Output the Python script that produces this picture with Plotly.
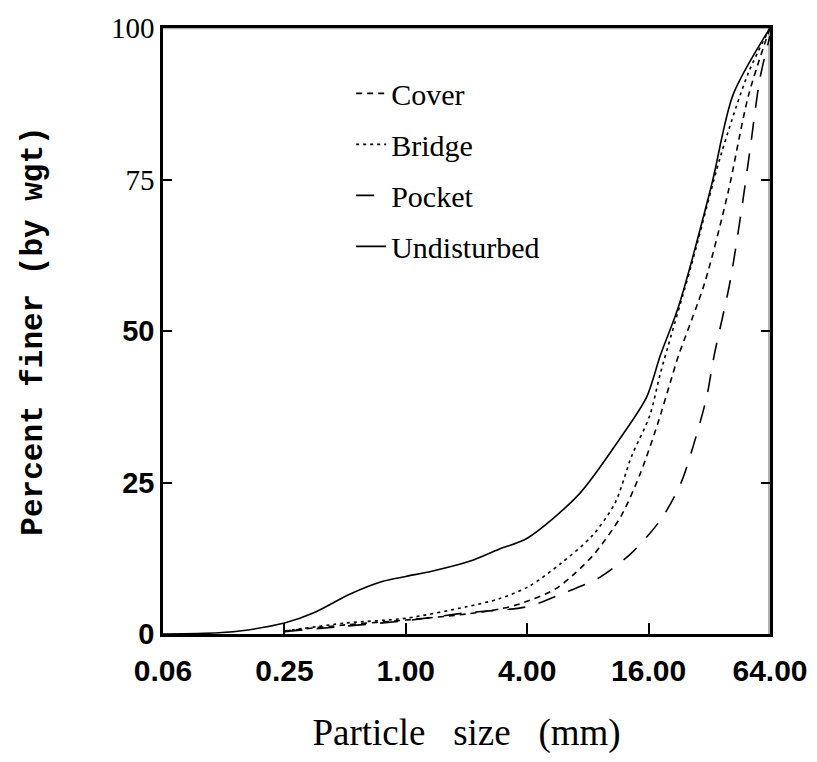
import plotly.graph_objects as go

# particle size (mm) / percent finer
undisturbed_x = [0.0625, 0.1, 0.15, 0.25, 0.35, 0.53, 0.77, 1.0, 1.36, 2.07, 2.9, 4.0,
                 7.2, 11.4, 15.6, 18.3, 22.5, 32.8, 42.0, 64.0]
undisturbed_y = [0.0, 0.1, 0.5, 1.8, 3.5, 6.6, 8.7, 9.5, 10.4, 12.0, 14.0, 15.8,
                 23.0, 32.0, 39.0, 46.0, 54.0, 74.0, 89.0, 100.0]

bridge_x = [0.25, 0.5, 1.0, 2.0, 2.9, 4.1, 5.9, 8.4, 10.9, 13.2, 16.2, 18.3, 26.0, 36.5, 50.0, 64.0]
bridge_y = [0.5, 1.8, 2.6, 4.5, 5.8, 7.9, 11.7, 16.2, 21.6, 29.4, 36.0, 43.0, 60.7, 79.0, 92.6, 100.0]

cover_x = [0.25, 0.5, 1.0, 2.0, 2.9, 3.7, 5.5, 6.9, 8.7, 11.7, 14.6, 17.8, 20.7, 22.5,
           30.4, 39.6, 50.0, 64.0]
cover_y = [0.5, 1.5, 2.3, 3.3, 4.1, 5.0, 7.4, 10.0, 13.4, 19.5, 26.6, 34.8, 42.0, 45.9,
           58.0, 72.8, 88.8, 100.0]

pocket_x = [0.25, 0.5, 1.0, 2.0, 4.0, 5.9, 9.0, 13.2, 18.5, 23.2, 26.9, 31.0, 33.8,
            40.5, 46.0, 51.0, 57.0, 64.0]
pocket_y = [0.4, 1.3, 2.2, 3.5, 4.5, 6.6, 9.2, 13.4, 19.0, 25.0, 31.5, 39.0, 45.9,
            58.0, 69.5, 80.0, 91.6, 98.7]

x_ticks = [0.0625, 0.25, 1, 4, 16, 64]
x_ticktext = ["0.06", "0.25", "1.00", "4.00", "16.00", "64.00"]
y_ticks = [0, 25, 50, 75, 100]

SERIF = "Liberation Serif, Times New Roman, serif"
BOLD_SANS = "Liberation Sans, Arial, sans-serif"

fig = go.Figure()
series = [
    ("Cover", cover_x, cover_y, "6px,5px"),
    ("Bridge", bridge_x, bridge_y, "3px,4px"),
    ("Pocket", pocket_x, pocket_y, "18px,14px"),
    ("Undisturbed", undisturbed_x, undisturbed_y, "solid"),
]
for name, xs, ys, dash in series:
    fig.add_trace(go.Scatter(
        x=xs, y=ys, mode="lines", name=name, legendgroup=name,
        line={"color": "black", "width": 1.6, "dash": dash, "shape": "spline", "smoothing": 0.8},
    ))

y_ticktext = [
    "<b>0</b>", "<b>25</b>", "<b>50</b>",
    f"<span style='font-family:{SERIF};font-weight:normal'>75</span>",
    f"<span style='font-family:{SERIF};font-weight:normal'>100</span>",
]

# frame: heavier right edge as in the scan, plus the top edge
fig.add_shape(type="line", xref="paper", yref="paper", x0=1, x1=1, y0=0, y1=1,
              line={"color": "black", "width": 4})
fig.add_shape(type="line", xref="paper", yref="paper", x0=0, x1=1, y0=1, y1=1,
              line={"color": "black", "width": 2.5})

fig.update_layout(
    width=817, height=762,
    template="simple_white",
    plot_bgcolor="white", paper_bgcolor="white",
    margin={"l": 155, "r": 55, "t": 20, "b": 136, "autoexpand": False},
    showlegend=True,
    legend={
        "x": 0.31, "y": 0.935, "xanchor": "left", "yanchor": "top",
        "font": {"family": SERIF, "size": 30, "color": "black"},
        "bgcolor": "rgba(0,0,0,0)", "tracegroupgap": 9,
    },
    xaxis={
        "type": "log", "automargin": False,
        "range": [-1.2041, 1.8062],
        "tickvals": x_ticks, "ticktext": [f"<b>{t}</b>" for t in x_ticktext],
        "tickfont": {"family": BOLD_SANS, "size": 30, "color": "black"},
        "ticklabelstandoff": 8,
        "ticks": "inside", "ticklen": 11, "tickwidth": 1.5, "tickcolor": "black",
        "showline": True, "linewidth": 2.5, "linecolor": "black", "mirror": True,
        "showgrid": False, "zeroline": False,
        "title": {"text": "Particle   size   (mm)", "font": {"family": SERIF, "size": 37, "color": "black"},
                  "standoff": 34},
    },
    yaxis={
        "range": [0, 100], "automargin": False,
        "tickvals": y_ticks, "ticktext": y_ticktext,
        "tickfont": {"family": BOLD_SANS, "size": 29, "color": "black"},
        "ticks": "inside", "ticklen": 9, "tickwidth": 1.5, "tickcolor": "black",
        "showline": True, "linewidth": 2.5, "linecolor": "black", "mirror": "ticks",
        "showgrid": False, "zeroline": False,
        "title": {"text": "<b>Percent finer (by wgt)</b>",
                  "font": {"family": "Liberation Mono, DejaVu Sans Mono, monospace", "size": 31,
                           "color": "black"},
                  "standoff": 60},
    },
)

fig.write_html("out.html")
